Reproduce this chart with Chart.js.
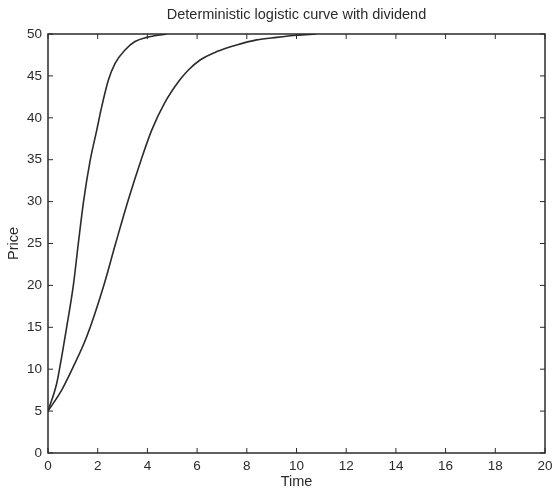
<!DOCTYPE html>
<html lang="en">
<head>
  <meta charset="UTF-8" />
  <title>Deterministic logistic curve with dividend</title>
  <style>
    * { margin: 0; padding: 0; box-sizing: border-box; }
    body { background: #fff; width: 554px; height: 491px; overflow: hidden; }
  </style>
</head>
<body>
  <canvas id="chart" width="554" height="491"></canvas>
  <script src="https://cdn.jsdelivr.net/npm/chart.js"></script>
  <script>
// fast curve
const fastTime  = [0, 0.35, 0.48, 0.75, 1.02, 1.22, 1.43, 1.69, 1.96, 2.16, 2.43, 2.70, 3.10, 3.50, 3.97, 4.78];
const fastPrice = [5, 8.3, 10.3, 15, 20, 25, 30, 34.8, 38.5, 41.3, 44.5, 46.5, 48.1, 49.1, 49.6, 50];

// slow curve (with dividend)
const slowTime  = [0, 0.55, 1.02, 1.56, 2.23, 2.72, 3.23, 3.75, 4.17, 4.7, 5.3, 5.65, 6.12, 6.79, 7.59, 8.4, 9.2, 10.0, 10.8];
const slowPrice = [5, 7.5, 10.3, 13.9, 19.85, 25, 30.2, 35, 38.5, 41.8, 44.5, 45.7, 46.9, 47.9, 48.7, 49.3, 49.6, 49.85, 50];

const xTicks = [0, 2, 4, 6, 8, 10, 12, 14, 16, 18, 20];
const yTicks = [0, 5, 10, 15, 20, 25, 30, 35, 40, 45, 50];

const toPoints = (xs, ys) => xs.map((x, i) => ({ x, y: ys[i] }));

const ink = '#2b2b2b';
const family = "'Liberation Sans', Arial, sans-serif";
const font = { family, size: 13.5 };
const labelFont = { family, size: 14.5 };

// matlab style box with inward ticks
const boxPlugin = {
  id: 'box',
  afterDraw(chart) {
    const { ctx, chartArea: a, scales } = chart;
    ctx.save();
    ctx.strokeStyle = ink;
    ctx.lineWidth = 1.5;
    ctx.strokeRect(a.left, a.top, a.right - a.left, a.bottom - a.top);
    const len = 5;
    ctx.beginPath();
    xTicks.forEach(v => {
      const px = scales.x.getPixelForValue(v);
      ctx.moveTo(px, a.bottom); ctx.lineTo(px, a.bottom - len);
      ctx.moveTo(px, a.top); ctx.lineTo(px, a.top + len);
    });
    yTicks.forEach(v => {
      const py = scales.y.getPixelForValue(v);
      ctx.moveTo(a.left, py); ctx.lineTo(a.left + len, py);
      ctx.moveTo(a.right, py); ctx.lineTo(a.right - len, py);
    });
    ctx.lineWidth = 1;
    ctx.stroke();
    ctx.restore();
  }
};

new Chart(document.getElementById('chart'), {
  type: 'scatter',
  data: {
    datasets: [
      { label: 'fast', data: toPoints(fastTime, fastPrice) },
      { label: 'slow', data: toPoints(slowTime, slowPrice) }
    ].map(d => Object.assign(d, {
      showLine: true,
      borderColor: ink,
      borderWidth: 1.6,
      pointRadius: 0,
      cubicInterpolationMode: 'monotone'
    }))
  },
  options: {
    responsive: false,
    animation: false,
    devicePixelRatio: 1,
    layout: { padding: { left: 0, right: 9, top: 0, bottom: 0 } },
    plugins: {
      legend: { display: false },
      tooltip: { enabled: false },
      title: {
        display: true,
        fullSize: false,
        text: 'Deterministic logistic curve with dividend',
        color: ink,
        font: { family, size: 14.5, weight: 'normal', lineHeight: 1.2 },
        padding: { top: 6.5, bottom: 10.1 }
      }
    },
    scales: {
      x: {
        type: 'linear',
        min: 0, max: 20,
        afterBuildTicks: s => { s.ticks = xTicks.map(v => ({ value: v })); },
        afterFit: s => { s.height = 38; s.paddingLeft = 0; s.paddingRight = 0; },
        ticks: { color: ink, font, padding: 5, maxRotation: 0, autoSkip: false },
        grid: { drawOnChartArea: false, drawTicks: false },
        border: { display: false },
        title: { display: true, text: 'Time', color: ink, font: labelFont, padding: 0 }
      },
      y: {
        type: 'linear',
        min: 0, max: 50,
        afterBuildTicks: s => { s.ticks = yTicks.map(v => ({ value: v })); },
        afterFit: s => { s.width = 48; },
        ticks: { color: ink, font, padding: 6, autoSkip: false },
        grid: { drawOnChartArea: false, drawTicks: false },
        border: { display: false },
        title: { display: true, text: 'Price', color: ink, font: labelFont, padding: { top: 5, bottom: 0 } }
      }
    }
  },
  plugins: [boxPlugin]
});
  </script>
</body>
</html>
